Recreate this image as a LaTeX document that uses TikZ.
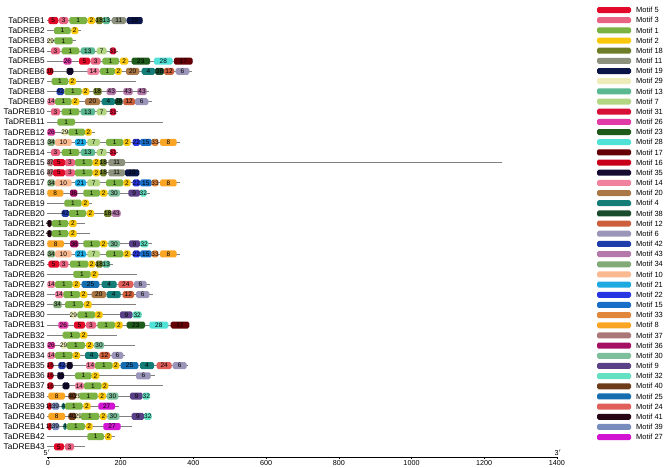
\documentclass[tikz,border=0pt]{standalone}
\usepackage{fontspec}
\setmainfont{Liberation Sans}
\newcounter{mk}
\definecolor{mc5}{RGB}{226,10,40}
\definecolor{mc3}{RGB}{232,100,130}
\definecolor{mc1}{RGB}{122,178,68}
\definecolor{mc2}{RGB}{250,200,10}
\definecolor{mc18}{RGB}{110,125,40}
\definecolor{mc11}{RGB}{140,145,125}
\definecolor{mc19}{RGB}{10,20,70}
\definecolor{mc29}{RGB}{238,236,185}
\definecolor{mc13}{RGB}{90,185,145}
\definecolor{mc7}{RGB}{178,214,130}
\definecolor{mc31}{RGB}{215,15,55}
\definecolor{mc26}{RGB}{225,60,165}
\definecolor{mc23}{RGB}{30,90,25}
\definecolor{mc28}{RGB}{80,225,215}
\definecolor{mc17}{RGB}{100,0,5}
\definecolor{mc16}{RGB}{200,0,25}
\definecolor{mc35}{RGB}{20,10,50}
\definecolor{mc14}{RGB}{240,130,160}
\definecolor{mc20}{RGB}{170,120,70}
\definecolor{mc4}{RGB}{20,125,120}
\definecolor{mc38}{RGB}{25,75,45}
\definecolor{mc12}{RGB}{205,95,60}
\definecolor{mc6}{RGB}{155,150,185}
\definecolor{mc42}{RGB}{30,60,170}
\definecolor{mc43}{RGB}{180,120,170}
\definecolor{mc34}{RGB}{130,170,120}
\definecolor{mc10}{RGB}{250,185,145}
\definecolor{mc21}{RGB}{30,170,225}
\definecolor{mc22}{RGB}{40,55,225}
\definecolor{mc15}{RGB}{25,110,200}
\definecolor{mc33}{RGB}{225,135,60}
\definecolor{mc8}{RGB}{250,165,35}
\definecolor{mc37}{RGB}{170,120,120}
\definecolor{mc36}{RGB}{165,15,100}
\definecolor{mc30}{RGB}{125,190,155}
\definecolor{mc9}{RGB}{90,65,135}
\definecolor{mc32}{RGB}{100,225,195}
\definecolor{mc40}{RGB}{110,60,25}
\definecolor{mc25}{RGB}{20,110,175}
\definecolor{mc24}{RGB}{225,95,90}
\definecolor{mc41}{RGB}{40,5,20}
\definecolor{mc39}{RGB}{120,140,190}
\definecolor{mc27}{RGB}{210,20,210}
\definecolor{bbone}{RGB}{128,128,128}
\tikzset{
  rowlab/.style={anchor=east,inner sep=0pt,font=\fontsize{8.3}{9}\selectfont},
  mlab/.style={inner sep=0pt,font=\fontsize{6.5}{6.5}\selectfont,text=black},
  backbone/.style={draw=bbone,line width=0.9pt},
  leglab/.style={anchor=west,inner sep=0pt,font=\fontsize{7.5}{8}\selectfont},
  axlab/.style={inner sep=0pt,font=\fontsize{7.2}{8}\selectfont},
}
\newcommand\gene[3]{%
  \pgfmathsetmacro\ry{20.5+(#1-1)*10.15}%
  \node[rowlab] (lab#1) at (45,\ry) {#3};%
  \coordinate (s#1) at (47.3,\ry);%
  \coordinate (e#1) at (#2,\ry);%
  \draw[backbone] (s#1) -- (e#1);}
\newcommand\mot[3]{\stepcounter{mk}%
  \fill[mc#1,rounded corners=1.6pt] (#2,\ry-3.5) rectangle (#3,\ry+3.5);%
  \node[mlab] (m\arabic{mk}) at ({(#2+#3)/2},\ry) {#1};}
\begin{document}
\begin{tikzpicture}[x=1pt,y=-1pt]
\useasboundingbox (0,0) rectangle (669,467);
% rows
\gene{1}{143}{TaDREB1}
\mot{5}{48.3}{58.3}\mot{3}{59}{68.3}\mot{1}{69.3}{87.3}\mot{2}{87.7}{95}\mot{18}{95.7}{103}\mot{13}{102.5}{110}\mot{11}{111.7}{126}\mot{19}{126.7}{142.7}
\gene{2}{81}{TaDREB2}
\mot{1}{54}{70.7}\mot{2}{71.3}{78.3}
\gene{3}{76}{TaDREB3}
\mot{29}{48}{53}\mot{1}{54.3}{72.7}
\gene{4}{118}{TaDREB4}
\mot{3}{51}{60}\mot{1}{61.7}{79.3}\mot{13}{80.7}{95}\mot{7}{96.7}{106.7}\mot{31}{110}{116}
\gene{5}{192.7}{TaDREB5}
\mot{26}{63.3}{71.7}\mot{5}{79}{90}\mot{3}{90.7}{100.7}\mot{1}{102.3}{119}\mot{2}{120}{128.3}\mot{23}{131.7}{150}\mot{28}{154}{172.7}\mot{17}{174}{192.7}
\gene{6}{191.7}{TaDREB6}
\mot{16}{46.7}{53.3}\mot{35}{66.7}{73.3}\mot{14}{87.3}{99.3}\mot{1}{100}{115}\mot{2}{115}{121.7}\mot{20}{126}{139.3}\mot{4}{141.7}{155}\mot{38}{155}{164}\mot{12}{164}{174}\mot{6}{175.7}{189.3}
\gene{7}{136}{TaDREB7}
\mot{1}{51.7}{68.3}\mot{2}{69}{76}
\gene{8}{149}{TaDREB8}
\mot{42}{56.7}{64}\mot{1}{64.3}{81.7}\mot{2}{82.3}{89.3}\mot{18}{93.3}{101.7}\mot{43}{106.7}{116}\mot{43}{123.3}{132.7}\mot{43}{137.3}{146.7}
\gene{9}{151.7}{TaDREB9}
\mot{14}{47.3}{55}\mot{1}{55}{71.7}\mot{2}{71.7}{79.3}\mot{20}{85}{100}\mot{4}{101.7}{115}\mot{38}{115}{122.7}\mot{12}{123.3}{135}\mot{6}{135}{148.3}
\gene{10}{118}{TaDREB10}
\mot{3}{51}{60}\mot{1}{61.7}{79.3}\mot{13}{80.7}{95}\mot{7}{96.7}{106.7}\mot{31}{110}{116}
\gene{11}{163.3}{TaDREB11}
\mot{1}{57.3}{75}
\gene{12}{95}{TaDREB12}
\mot{26}{47.3}{55}\mot{29}{61.7}{68.3}\mot{1}{68.3}{85}\mot{2}{85}{91.7}
\gene{13}{180}{TaDREB13}
\mot{34}{47.3}{55}\mot{10}{55}{71.7}\mot{21}{75}{86}\mot{7}{87.3}{100}\mot{1}{106}{123.3}\mot{2}{123.3}{130.7}\mot{22}{132.7}{140}\mot{15}{140}{151.7}\mot{33}{151.7}{158.3}\mot{8}{160}{176.7}
\gene{14}{118}{TaDREB14}
\mot{3}{51}{60}\mot{1}{61.7}{79.3}\mot{13}{80.7}{95}\mot{7}{96.7}{106.7}\mot{31}{110}{116}
\gene{15}{502}{TaDREB15}
\mot{37}{47.3}{53}\mot{5}{53}{65}\mot{3}{65}{75}\mot{1}{75}{92.7}\mot{2}{92.7}{100}\mot{18}{100}{106.7}\mot{11}{108.3}{125}
\gene{16}{139.3}{TaDREB16}
\mot{37}{47.3}{53}\mot{5}{53}{65}\mot{3}{65}{75}\mot{1}{75}{92.7}\mot{2}{92.7}{100}\mot{18}{100}{106.7}\mot{11}{108.3}{125}\mot{19}{125}{139.3}
\gene{17}{180}{TaDREB17}
\mot{34}{47.3}{55}\mot{10}{55}{71.7}\mot{21}{75}{86}\mot{7}{87.3}{100}\mot{1}{106}{123.3}\mot{2}{123.3}{130.7}\mot{22}{132.7}{140}\mot{15}{140}{151.7}\mot{33}{151.7}{158.3}\mot{8}{160}{176.7}
\gene{18}{150}{TaDREB18}
\mot{8}{47.3}{63.3}\mot{36}{70}{77.3}\mot{1}{83.3}{100}\mot{2}{100}{107.3}\mot{30}{108.3}{120}\mot{9}{128.3}{140}\mot{32}{140}{146.7}
\gene{19}{91.7}{TaDREB19}
\mot{1}{64.3}{81.7}\mot{2}{81.7}{89}
\gene{20}{120.7}{TaDREB20}
\mot{42}{61.7}{69}\mot{1}{69}{86}\mot{2}{86.7}{94}\mot{18}{104}{111.7}\mot{43}{111.7}{120.7}
\gene{21}{85}{TaDREB21}
\mot{41}{47.3}{51.7}\mot{1}{51.7}{68.3}\mot{2}{69}{76.7}
\gene{22}{90}{TaDREB22}
\mot{41}{47.3}{51.7}\mot{1}{51.7}{68.3}\mot{2}{69}{76.7}
\gene{23}{151.7}{TaDREB23}
\mot{8}{47.3}{64}\mot{36}{70}{78.3}\mot{1}{83.3}{100}\mot{2}{100}{107.3}\mot{30}{108.3}{120}\mot{9}{129}{140}\mot{32}{140}{148.3}
\gene{24}{180}{TaDREB24}
\mot{34}{47.3}{55}\mot{10}{55}{71.7}\mot{21}{75}{86}\mot{7}{87.3}{100}\mot{1}{106}{123.3}\mot{2}{123.3}{130.7}\mot{22}{132.7}{140}\mot{15}{140}{151.7}\mot{33}{151.7}{158.3}\mot{8}{160}{176.7}
\gene{25}{113}{TaDREB25}
\mot{5}{48.3}{59.3}\mot{3}{59.3}{68.3}\mot{1}{70}{88.3}\mot{2}{88.3}{95}\mot{18}{95.7}{103}\mot{13}{102.5}{110}
\gene{26}{136.7}{TaDREB26}
\mot{1}{73.3}{90.7}\mot{2}{90.7}{98.3}
\gene{27}{150}{TaDREB27}
\mot{14}{47.3}{55}\mot{1}{55}{72.7}\mot{2}{72.7}{80}\mot{25}{81.7}{99.3}\mot{4}{101.7}{116.7}\mot{24}{118.3}{133.3}\mot{6}{134}{146.7}
\gene{28}{152.7}{TaDREB28}
\mot{14}{55}{63.3}\mot{1}{63.3}{80}\mot{2}{80}{87.3}\mot{20}{91.7}{106}\mot{4}{106.7}{120.7}\mot{12}{122.7}{134}\mot{6}{136}{149.3}
\gene{29}{136}{TaDREB29}
\mot{34}{53.3}{61.7}\mot{1}{65}{83.3}\mot{2}{84}{91.7}
\gene{30}{141.7}{TaDREB30}
\mot{29}{70}{76.7}\mot{1}{77.3}{95}\mot{2}{95}{102.7}\mot{9}{120}{132.7}\mot{32}{132.7}{141.7}
\gene{31}{189.3}{TaDREB31}
\mot{26}{58.3}{68.3}\mot{5}{74}{85}\mot{3}{86}{96}\mot{1}{97.3}{115}\mot{2}{115}{122.7}\mot{23}{126.7}{145}\mot{28}{149.3}{168.3}\mot{17}{170.7}{189.3}
\gene{32}{116.7}{TaDREB32}
\mot{1}{62.7}{80}\mot{2}{80}{87.3}
\gene{33}{135}{TaDREB33}
\mot{26}{47.3}{55}\mot{29}{60.7}{66.7}\mot{1}{66.7}{85}\mot{2}{86}{93.3}\mot{30}{94}{104}
\gene{34}{125}{TaDREB34}
\mot{14}{47.3}{55}\mot{1}{55}{72.7}\mot{2}{72.7}{80}\mot{4}{85}{98.3}\mot{12}{99.3}{110}\mot{6}{111.7}{123.3}
\gene{35}{188.3}{TaDREB35}
\mot{16}{47.3}{53.3}\mot{42}{58.3}{65.7}\mot{35}{66.7}{72.7}\mot{14}{86}{95}\mot{1}{95}{112.7}\mot{2}{112.7}{119.3}\mot{25}{120.7}{138.3}\mot{4}{140}{154}\mot{24}{156.7}{171.7}\mot{6}{172.7}{186.7}
\gene{36}{155}{TaDREB36}
\mot{16}{47.3}{53.3}\mot{35}{57.3}{64}\mot{1}{75}{91.7}\mot{2}{91.7}{99.3}\mot{6}{136}{150.7}
\gene{37}{163.3}{TaDREB37}
\mot{16}{47.3}{53.3}\mot{35}{62.7}{69.3}\mot{14}{75}{84}\mot{1}{84}{101.7}\mot{2}{101.7}{108.3}
\gene{38}{150}{TaDREB38}
\mot{8}{48.3}{65}\mot{40}{68.3}{76}\mot{29}{76}{79.3}\mot{1}{79.3}{97.7}\mot{2}{98.3}{106}\mot{30}{106.7}{118.3}\mot{9}{130}{142.7}\mot{32}{142.7}{150}
\gene{39}{119.3}{TaDREB39}
\mot{16}{47.3}{51.7}\mot{39}{51.7}{59.3}\mot{4}{61.7}{65}\mot{1}{65}{82.7}\mot{2}{83.3}{90.7}\mot{27}{98.3}{115}
\gene{40}{151.7}{TaDREB40}
\mot{8}{48.3}{65}\mot{40}{68.3}{76}\mot{29}{76}{80.7}\mot{1}{80.7}{99.3}\mot{2}{100}{106.7}\mot{30}{107.3}{119.3}\mot{9}{131.7}{144}\mot{32}{144}{151.7}
\gene{41}{131.7}{TaDREB41}
\mot{16}{47.3}{51.7}\mot{39}{51.7}{59.3}\mot{4}{63.3}{66.7}\mot{1}{66.7}{85}\mot{2}{85.7}{92.7}\mot{27}{103.3}{120.7}
\gene{42}{115}{TaDREB42}
\mot{1}{87.3}{104}\mot{2}{105}{111.7}
\gene{43}{85}{TaDREB43}
\mot{5}{54}{64}\mot{3}{65}{74}
% axis
\coordinate (ax0) at (47.3,457);
\coordinate (ax1) at (557.5,457);
\draw[line width=0.6pt] (ax0) -- (ax1);
\foreach \v [count=\k from 0] in {0,200,400,600,800,1000,1200,1400}{
  \pgfmathsetmacro\tx{48+\k*72.7}
  \draw[line width=0.5pt] (\tx,457) -- (\tx,459);
  \node[axlab] (t\k) at (\tx,462.8) {\v};
}
\node[axlab] (p5) at (47,452.8) {5$'$};
\node[axlab] (p3) at (558,452.5) {3$'$};
% legend
\foreach \m [count=\i] in {5,3,1,2,18,11,19,29,13,7,31,26,23,28,17,16,35,14,20,4,38,12,6,42,43,34,10,21,22,15,33,8,37,36,30,9,32,40,25,24,41,39,27}{
  \pgfmathsetmacro\ly{10+(\i-1)*10.17}
  \fill[mc\m,rounded corners=1.6pt] (597,\ly-3) rectangle (631,\ly+3);
  \node[leglab] (lg\i) at (636,\ly) {Motif \m};
}
\end{tikzpicture}
\end{document}
